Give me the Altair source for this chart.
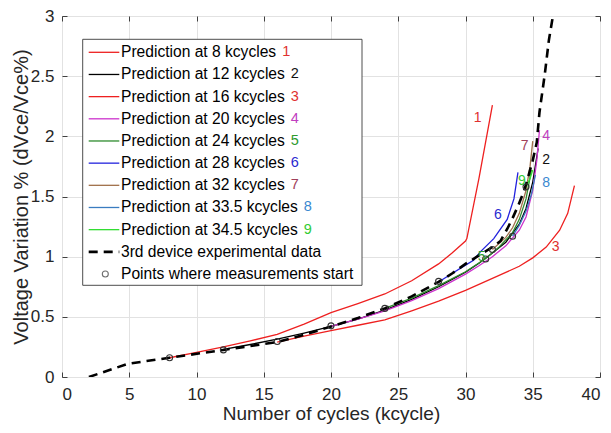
import altair as alt
import pandas as pd

# ---------------- data ----------------
exp_x = [2, 4.9, 8, 12, 16, 18, 20, 22, 24, 26, 28, 29, 30, 31, 32, 32.6, 33.1, 33.5,
         33.9, 34.3, 34.5, 35, 35.3, 35.5, 35.9, 36.2, 36.5]
exp_y = [0, 0.11, 0.16, 0.225, 0.29, 0.35, 0.42, 0.49, 0.57, 0.67, 0.79, 0.86, 0.94, 1.01,
         1.08, 1.13, 1.23, 1.32, 1.42, 1.53, 1.6, 1.8, 1.95, 2.2, 2.52, 2.8, 3.0]

pred_names = ["Prediction at 8 kcycles", "Prediction at 12 kcycles", "Prediction at 16 kcycles",
              "Prediction at 20 kcycles", "Prediction at 24 kcycles", "Prediction at 28 kcycles",
              "Prediction at 32 kcycles", "Prediction at 33.5 kcycles", "Prediction at 34.5 kcycles"]
pred_nums = ["1", "2", "3", "4", "5", "6", "7", "8", "9"]
line_colors = ["#ee2020", "#000000", "#ee2020", "#cc33cc", "#2e8b2e", "#2222dd",
               "#a0704a", "#3a7cc0", "#33dd33"]
num_colors = ["#e03030", "#111111", "#e03030", "#c040c0", "#2e9a2e", "#2a2ad0",
              "#a0405a", "#3a88d0", "#33cc33"]

p8_x = [8, 10, 12, 14, 16, 18, 20, 22, 24, 26, 28, 29, 30, 30.1, 31, 32]
p8_y = [0.16, 0.205, 0.25, 0.30, 0.355, 0.44, 0.535, 0.61, 0.69, 0.8, 0.94, 1.03, 1.13, 1.15, 1.65, 2.26]
p12_x = [12, 14, 16, 18, 20, 22, 24, 26, 28, 30, 31, 32, 33, 34, 34.5, 35, 35.4]
p12_y = [0.23, 0.27, 0.315, 0.365, 0.42, 0.48, 0.555, 0.645, 0.75, 0.87, 0.945, 1.03, 1.12, 1.27, 1.4, 1.62, 1.9]
p16_x = [16, 18, 20, 22, 24, 26, 28, 30, 32, 34, 35, 36, 37, 37.6, 38.1]
p16_y = [0.29, 0.34, 0.385, 0.43, 0.475, 0.55, 0.63, 0.72, 0.82, 0.92, 0.99, 1.08, 1.22, 1.36, 1.59]
p20_x = [20, 22, 24, 26, 28, 30, 31, 32, 33, 34, 34.5, 35, 35.3, 35.5]
p20_y = [0.42, 0.48, 0.55, 0.635, 0.735, 0.855, 0.925, 1.0, 1.09, 1.22, 1.33, 1.55, 1.8, 2.05]
p24_x = [24, 26, 28, 30, 31.5, 32.5, 33.5, 34, 34.5, 34.9]
p24_y = [0.57, 0.655, 0.76, 0.875, 0.985, 1.08, 1.2, 1.31, 1.48, 1.72]
p28_x = [28, 29, 30, 30.6, 31.1, 32.1, 33.1, 33.6, 33.9]
p28_y = [0.79, 0.86, 0.93, 0.97, 1.04, 1.15, 1.31, 1.48, 1.70]
p32_x = [32, 33, 33.5, 34, 34.5, 34.8, 35.0]
p32_y = [1.06, 1.16, 1.24, 1.36, 1.55, 1.75, 1.96]
p335_x = [33.5, 34, 34.5, 34.9, 35.2]
p335_y = [1.17, 1.26, 1.38, 1.52, 1.68]
p345_x = [34.5, 34.8, 35.0]
p345_y = [1.58, 1.65, 1.72]

circle_x = [8, 12, 16, 20, 24, 28, 31.5, 32, 33.5, 34.5]
circle_y = [0.16, 0.225, 0.295, 0.425, 0.57, 0.795, 0.98, 1.06, 1.17, 1.58]

label_x = [30.9, 36.0, 36.7, 36.0, 31.2, 32.4, 34.4, 36.0, 34.2]
label_y = [2.15, 1.80, 1.08, 2.0, 1.0, 1.35, 1.92, 1.61, 1.63]

exp_name = "3rd device experimental data"
pts_name = "Points where measurements start"

# ---------------- tables ----------------
pred_xy = [(p8_x, p8_y), (p12_x, p12_y), (p16_x, p16_y), (p20_x, p20_y), (p24_x, p24_y),
           (p28_x, p28_y), (p32_x, p32_y), (p335_x, p335_y), (p345_x, p345_y)]
rows = []
for name, (xs_, ys_) in zip(pred_names, pred_xy):
    for i, (a, b) in enumerate(zip(xs_, ys_)):
        rows.append({"series": name, "x": a, "y": b, "o": i})
pred_df = pd.DataFrame(rows)
exp_df = pd.DataFrame({"x": exp_x, "y": exp_y, "o": range(len(exp_x))})
pts_df = pd.DataFrame({"x": circle_x, "y": circle_y})
lab_df = pd.DataFrame({"x": label_x, "y": label_y, "t": pred_nums, "c": num_colors})

XD = [0, 40]
YD = [0, 3]
FONT = "Liberation Sans"
PAD = {"left": 54, "top": 8, "right": 3, "bottom": 50}
W, H = 538, 361
OX, OY = 8 + PAD["left"], 8 + PAD["top"]   # page position of plot origin

xs = alt.Scale(domain=XD, nice=False, zero=False)
ys = alt.Scale(domain=YD, nice=False, zero=False)

main_x_axis = alt.Axis(orient="bottom", values=list(range(0, 41, 5)), title="Number of cycles (kcycle)",
                       offset=-5, tickSize=5, domain=False, grid=True, labelPadding=9,
                       titlePadding=2, labelFontSize=17, titleFontSize=19)
main_y_axis = alt.Axis(orient="left", values=[0, 0.5, 1, 1.5, 2, 2.5, 3], format="~g",
                       title="Voltage Variation % (dVce/Vce%)", offset=-5, tickSize=5,
                       domain=False, grid=True, labelPadding=8, titlePadding=-1,
                       labelFontSize=17, titleFontSize=20)
top_axis = alt.Axis(orient="top", values=list(range(0, 41, 5)), title=None, labels=False,
                    offset=-5, tickSize=5, domain=False, grid=False)
right_axis = alt.Axis(orient="right", values=[0, 0.5, 1, 1.5, 2, 2.5, 3], title=None,
                      labels=False, offset=-5, tickSize=5, domain=False, grid=False)

pred_lines = alt.Chart(pred_df).mark_line(strokeWidth=1.3, clip=True).encode(
    x=alt.X("x:Q", scale=xs, axis=None),
    y=alt.Y("y:Q", scale=ys, axis=None),
    color=alt.Color("series:N", scale=alt.Scale(domain=pred_names, range=line_colors), legend=None),
    order="o:Q",
)

exp_line = alt.Chart(exp_df).mark_line(strokeWidth=2.6, strokeDash=[9, 6], color="black", clip=True).encode(
    x=alt.X("x:Q", scale=xs, axis=main_x_axis),
    y=alt.Y("y:Q", scale=ys, axis=main_y_axis),
    order="o:Q",
)

pts = alt.Chart(pts_df).mark_point(shape="circle", filled=False, size=36, strokeWidth=1.1,
                                   color="#333333", opacity=1).encode(
    x=alt.X("x:Q", scale=xs, axis=top_axis),
    y=alt.Y("y:Q", scale=ys, axis=right_axis),
)

labels = alt.Chart(lab_df).mark_text(fontSize=14, font=FONT).encode(
    x=alt.X("x:Q", scale=xs, axis=None),
    y=alt.Y("y:Q", scale=ys, axis=None),
    text="t:N",
    color=alt.Color("c:N", scale=None),
)

# ---------------- manual legend (page pixel layout -> plot-relative) ----------------
LEG_L, LEG_R, LEG_T, LEG_B = 82.7 - OX, 362 - OX, 39.3 - OY, 285.3 - OY
ROW0, ROW_DY = 52.3 - OY, 22.17
SYM_X1, SYM_X2, TXT_X = 88.7 - OX, 119.3 - OX, 121 - OX
LEG_FS = 15.6

AW = {" ": .278, ".": .278, "P": .667, "r": .333, "e": .556, "d": .556, "i": .222, "c": .5, "t": .278,
      "o": .556, "n": .556, "a": .556, "k": .5, "y": .5, "l": .222, "s": .5}
def text_w(s):
    return sum(AW.get(ch, .556) for ch in s) * LEG_FS

leg_rows = pd.DataFrame({
    "t": pred_names,
    "py": [ROW0 + ROW_DY * i for i in range(len(pred_names))],
    "c": line_colors,
    "nc": num_colors,
    "n": pred_nums,
    "nx": [TXT_X + text_w(s) + 6 for s in pred_names],
})
all_text = pd.DataFrame({
    "t": pred_names + [exp_name, pts_name],
    "py": [ROW0 + ROW_DY * i for i in range(len(pred_names) + 2)],
})
dash_row = pd.DataFrame({"py": [ROW0 + ROW_DY * 9]})
pt_row = pd.DataFrame({"py": [ROW0 + ROW_DY * 10]})
box_df = pd.DataFrame({"a": [0]})

leg_box = alt.Chart(box_df).mark_rect(fill="white", stroke="#3a3a3a", strokeWidth=0.9).encode(
    x=alt.value(LEG_L), x2=alt.value(LEG_R), y=alt.value(LEG_T), y2=alt.value(LEG_B))
leg_lines = alt.Chart(leg_rows).mark_rule(strokeWidth=1.3).encode(
    x=alt.value(SYM_X1), x2=alt.value(SYM_X2),
    y=alt.Y("py:Q", scale=None, axis=None),
    color=alt.Color("c:N", scale=None))
leg_dash = alt.Chart(dash_row).mark_rule(strokeWidth=2.6, strokeDash=[9, 6], color="black").encode(
    x=alt.value(SYM_X1), x2=alt.value(SYM_X2), y=alt.Y("py:Q", scale=None, axis=None))
leg_pt = alt.Chart(pt_row).mark_point(shape="circle", filled=False, size=36, strokeWidth=1.1,
                                      color="#333333").encode(
    x=alt.value(105.3 - OX), y=alt.Y("py:Q", scale=None, axis=None))
leg_text = alt.Chart(all_text).mark_text(align="left", baseline="middle", fontSize=LEG_FS,
                                         font=FONT, color="black").encode(
    x=alt.value(TXT_X), y=alt.Y("py:Q", scale=None, axis=None), text="t:N")
leg_nums = alt.Chart(leg_rows).mark_text(align="left", baseline="middle", fontSize=14.5,
                                         font=FONT).encode(
    x=alt.X("nx:Q", scale=None, axis=None), y=alt.Y("py:Q", scale=None, axis=None),
    text="n:N", color=alt.Color("nc:N", scale=None))

chart = alt.layer(
    pred_lines, exp_line, pts, labels,
    leg_box, leg_lines, leg_dash, leg_pt, leg_text, leg_nums,
).properties(
    width=W, height=H,
    autosize=alt.AutoSizeParams(type="none"),
    padding=PAD,
).configure_view(
    stroke="#404040", strokeWidth=1
).configure_axis(
    labelFont=FONT, titleFont=FONT, labelColor="#262626", titleColor="#262626",
    tickColor="#404040", gridColor="#e2e2e2", gridWidth=1, titleFontWeight="normal",
)

chart.save("out.html", embed_options={"renderer": "svg", "actions": False})
